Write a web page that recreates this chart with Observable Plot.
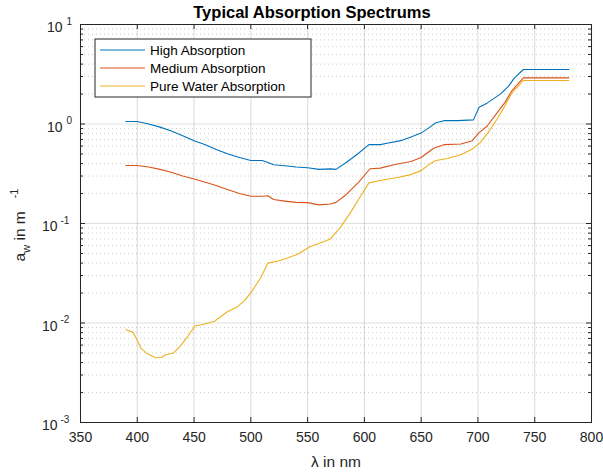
<!DOCTYPE html>
<html>
<head>
<meta charset="utf-8">
<script src="https://cdn.jsdelivr.net/npm/d3@7"></script>
<script src="https://cdn.jsdelivr.net/npm/@observablehq/plot@0.6"></script>
<style>
  body { margin: 0; background: #fff; }
  #chart svg { display: block; }
</style>
</head>
<body>
<div id="chart"></div>
<script>
// Absorption spectra a_w(λ): wavelength (nm) and absorption (1/m) per series
const highNm = [390,400,410,420,430,440,450,460,470,480,490,500,505,510,515,520,530,540,550,560,570,575,584,594,604,614,620,632,641,650,657,663,670,682,696,701,708,720,727,732,740,780];
const highVal = [1.06,1.06,1.00,0.93,0.85,0.76,0.68,0.62,0.55,0.50,0.46,0.43,0.43,0.43,0.41,0.39,0.38,0.37,0.363,0.35,0.354,0.35,0.41,0.50,0.62,0.62,0.64,0.68,0.74,0.81,0.92,1.03,1.08,1.08,1.10,1.47,1.62,2.01,2.40,2.89,3.53,3.53];

const mediumNm = [390,400,410,420,430,440,450,460,470,480,490,500,510,515,520,530,540,550,560,570,575,583,595,605,614,626,641,650,661,670,685,695,701,708,717,724,730,740,780];
const mediumVal = [0.383,0.383,0.37,0.35,0.328,0.30,0.28,0.26,0.24,0.218,0.20,0.188,0.188,0.19,0.174,0.168,0.163,0.162,0.154,0.157,0.163,0.191,0.26,0.355,0.36,0.39,0.42,0.46,0.57,0.62,0.63,0.68,0.82,0.95,1.30,1.66,2.17,2.91,2.91];

const waterNm = [390,396,400,403,409,416,421,425,432,438,444,451,457,468,479,488,494,500,509,515,526,541,553,561,570,579,588,597,604,614,629,641,650,658,663,673,685,695,702,709,717,723,730,740,780];
const waterVal = [0.00855,0.0081,0.0067,0.0056,0.0049,0.00447,0.0045,0.0048,0.0050,0.0059,0.0072,0.0094,0.0096,0.0104,0.0129,0.0145,0.0166,0.0201,0.0288,0.040,0.0425,0.049,0.059,0.0636,0.070,0.092,0.13,0.191,0.256,0.27,0.29,0.31,0.34,0.40,0.43,0.45,0.49,0.56,0.65,0.82,1.13,1.47,2.06,2.74,2.74];

const seriesNames = ["High Absorption", "Medium Absorption", "Pure Water Absorption"];
const seriesColors = ["#0072BD", "#D95319", "#EDB120"];

const xTicks = [350,400,450,500,550,600,650,700,750,800];
const yTicks = [10, 1, 0.1, 0.01, 0.001];
const yTickExp = ["1", "0", "-1", "-2", "-3"];

const titleText = "Typical Absorption Spectrums";
const xLabel = "\u03bb in nm";

// Build the long-format table
const rows = [];
[[highNm, highVal], [mediumNm, mediumVal], [waterNm, waterVal]].forEach(([nm, val], i) => {
  nm.forEach((w, j) => rows.push({series: seriesNames[i], nm: w, a: val[j]}));
});

// minor decades 2..9 × 10^k
const yMinor = [];
for (let k = -3; k <= 0; k++) for (let m = 2; m <= 9; m++) yMinor.push(m * Math.pow(10, k));

const tickRows = yTicks.map((v, i) => ({v, exp: yTickExp[i], neg: yTickExp[i].startsWith("-")}));

const W = 603, H = 475;
const mL = 80, mR = 12, mT = 24, mB = 53;
const fw = W - mL - mR, fh = H - mT - mB;
const font = "'Liberation Sans', Arial, Helvetica, sans-serif";
const ink = "#262626";

const chart = Plot.plot({
  width: W,
  height: H,
  marginLeft: mL,
  marginRight: mR,
  marginTop: mT,
  marginBottom: mB,
  style: {fontFamily: font, fontSize: "14px", color: ink, background: "#fff"},
  x: {domain: [350, 800], ticks: xTicks},
  y: {type: "log", domain: [0.001, 10]},
  color: {domain: seriesNames, range: seriesColors},
  marks: [
    // grids
    Plot.ruleY(yMinor, {stroke: "#000", strokeOpacity: 0.2, strokeDasharray: "1 3"}),
    Plot.gridX(xTicks, {stroke: "#000", strokeOpacity: 0.12, strokeWidth: 1.2}),
    Plot.gridY(yTicks, {stroke: "#000", strokeOpacity: 0.12, strokeWidth: 1.2}),
    // data
    Plot.line(rows, {x: "nm", y: "a", z: "series", stroke: "series", strokeWidth: 1.1}),
    // inward ticks on all four sides
    Plot.tickY(yTicks, {stroke: ink, insetRight: fw - 5}),
    Plot.tickY(yTicks, {stroke: ink, insetLeft: fw - 5}),
    Plot.tickY(yMinor, {stroke: ink, insetRight: fw - 3}),
    Plot.tickY(yMinor, {stroke: ink, insetLeft: fw - 3}),
    Plot.tickX(xTicks, {stroke: ink, insetTop: fh - 5}),
    Plot.tickX(xTicks, {stroke: ink, insetBottom: fh - 5}),
    Plot.frame({stroke: ink, strokeWidth: 1}),
    // axes labels
    Plot.axisX(xTicks, {tickSize: 0, tickPadding: 10, label: null, fill: ink, fontSize: 14}),
    Plot.axisY({ticks: [], label: null, tickSize: 0}),
    Plot.text(tickRows.filter(d => !d.neg), {y: "v", text: () => "10", frameAnchor: "left", textAnchor: "end", dx: -18, dy: 3.5, fill: ink, fontSize: 14}),
    Plot.text(tickRows.filter(d => !d.neg), {y: "v", text: "exp", frameAnchor: "left", textAnchor: "start", dx: -14, dy: -3, fill: ink, fontSize: 10}),
    Plot.text(tickRows.filter(d => d.neg), {y: "v", text: () => "10", frameAnchor: "left", textAnchor: "end", dx: -23, dy: 3.5, fill: ink, fontSize: 14}),
    Plot.text(tickRows.filter(d => d.neg), {y: "v", text: "exp", frameAnchor: "left", textAnchor: "start", dx: -20, dy: -3, fill: ink, fontSize: 10}),
    Plot.text([xLabel], {frameAnchor: "bottom", lineAnchor: "bottom", dy: 44, fill: ink, fontSize: 15.5}),
    Plot.text([titleText], {frameAnchor: "top", lineAnchor: "bottom", dx: -24, dy: -7, fill: "#000", fontSize: 16.5, fontWeight: "bold"})
  ]
});

document.getElementById("chart").appendChild(chart);

// y-axis label with subscript and superscript
const svg = d3.select(chart);
const yl = svg.append("text")
  .attr("transform", `translate(25,${mT + fh / 2 + 2}) rotate(-90)`)
  .attr("text-anchor", "middle")
  .attr("fill", ink)
  .style("font-family", font)
  .style("font-size", "15.5px");
yl.append("tspan").text("a");
yl.append("tspan").attr("dy", 5).style("font-size", "11px").text("w");
yl.append("tspan").attr("dy", -5).text("\u00a0in m\u00a0\u00a0\u00a0");
yl.append("tspan").attr("dy", -7).style("font-size", "11px").text("-1");

// legend box
const lg = svg.append("g").attr("transform", "translate(95,39)");
lg.append("rect").attr("width", 216).attr("height", 58).attr("fill", "#fff").attr("stroke", ink).attr("stroke-width", 1);
seriesNames.forEach((name, i) => {
  const y = 11 + i * 18;
  lg.append("line").attr("x1", 5).attr("x2", 50).attr("y1", y).attr("y2", y)
    .attr("stroke", seriesColors[i]).attr("stroke-width", 1.1);
  lg.append("text").attr("x", 55).attr("y", y + 5).attr("fill", "#000")
    .attr("text-anchor", "start")
    .style("font-family", font).style("font-size", "13.5px").text(name);
});
</script>
</body>
</html>
